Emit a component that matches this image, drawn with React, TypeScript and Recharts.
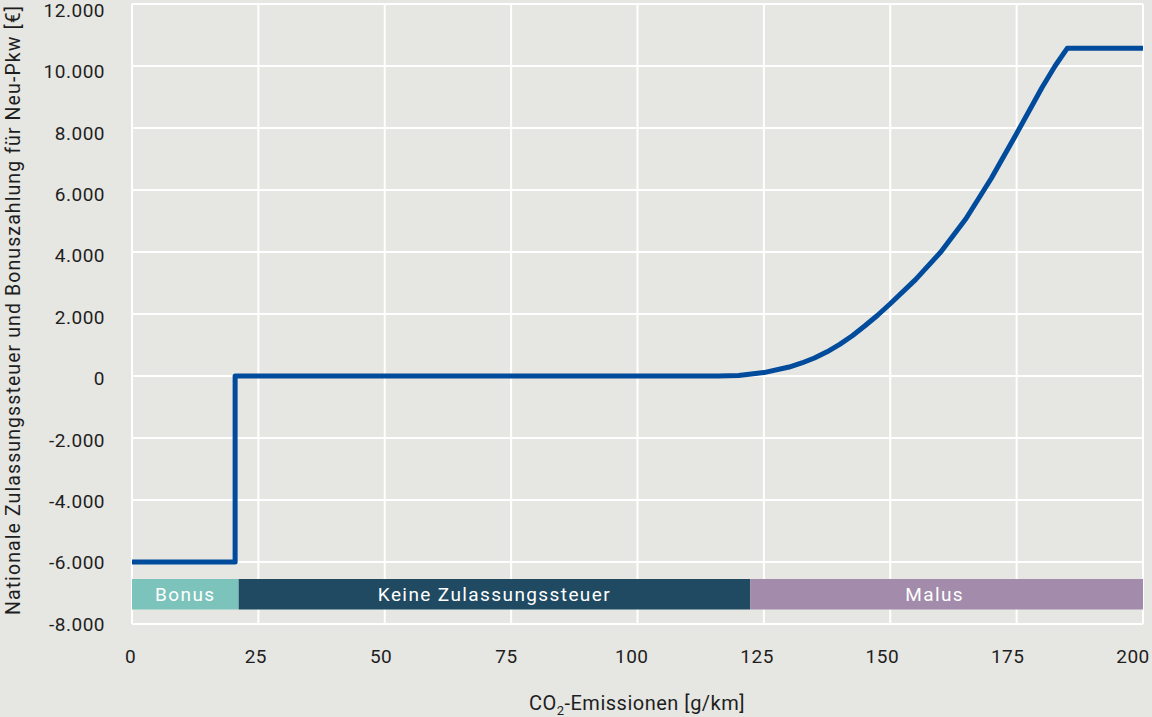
import React from "react";
import {
  LineChart,
  Line,
  XAxis,
  YAxis,
  CartesianGrid,
  ReferenceArea,
} from "recharts";

// CO2 emissions [g/km] and payment [€]
const emissions = [0, 20.4, 20.4, 116, 120, 125, 130, 132.5, 135, 137.5, 140, 142.5, 145, 147.5, 150, 155, 160, 165, 170, 175, 180, 182.6, 185, 200];
const payment = [-6000, -6000, 0, 0, 15, 110, 290, 420, 580, 780, 1020, 1300, 1620, 1960, 2330, 3110, 4000, 5080, 6380, 7820, 9300, 10000, 10570, 10570];

const xTicks = [0, 25, 50, 75, 100, 125, 150, 175, 200];
const yTicks = [-8000, -6000, -4000, -2000, 0, 2000, 4000, 6000, 8000, 10000, 12000];

const bandNames = ["Bonus", "Keine Zulassungssteuer", "Malus"];
const bandStart = [0, 21.1, 122.3];
const bandEnd = [21.1, 122.3, 200];
const bandColors = ["#7cc3bc", "#1f4a62", "#a28bab"];
const bandLabelShift = [0, 0, -12];
const bandLow = -7530;
const bandHigh = -6550;

const data = emissions.map((x, i) => ({ x, y: payment[i] }));

const fmt = (v: number) => {
  const s = Math.abs(v)
    .toFixed(0)
    .replace(/\B(?=(\d{3})+(?!\d))/g, ".");
  return v < 0 ? "-" + s : s;
};

const FONT = "Roboto, 'Open Sans', sans-serif";
const TEXT = "#1e1e1e";

const XTick = (props: any) => {
  const { x, y, payload } = props;
  const v = payload.value as number;
  const dx = -1.5 - (8.5 * v) / 200;
  return (
    <text
      x={x + dx}
      y={y}
      dy="0.71em"
      textAnchor="middle"
      fill={TEXT}
      fontSize={19}
      fontFamily={FONT}
      letterSpacing={0.5}
    >
      {String(v)}
    </text>
  );
};

const YTick = (props: any) => {
  const { x, y, payload } = props;
  const v = payload.value as number;
  const dy = (6 * (v + 8000)) / 20000;
  return (
    <text
      x={x}
      y={y + dy}
      dy="0.355em"
      textAnchor="end"
      fill={TEXT}
      fontSize={19}
      fontFamily={FONT}
      letterSpacing={0.5}
    >
      {fmt(v)}
    </text>
  );
};

const YLabel = () => (
  <text
    x={13}
    y={310}
    transform="rotate(-90, 13, 310)"
    textAnchor="middle"
    dominantBaseline="central"
    fill={TEXT}
    fontSize={19.5}
    fontFamily={FONT}
    letterSpacing={1.1}
  >
    Nationale Zulassungssteuer und Bonuszahlung für Neu-Pkw [€]
  </text>
);

const XLabel = () => (
  <text
    x={637}
    y={710}
    textAnchor="middle"
    fill={TEXT}
    fontSize={20}
    fontFamily={FONT}
    letterSpacing={0.5}
  >
    CO
    <tspan dy={5} fontSize={13}>
      2
    </tspan>
    <tspan dy={-5}>-Emissionen [g/km]</tspan>
  </text>
);

export default function App() {
  return (
    <div
      style={{
        position: "absolute",
        left: 0,
        top: 0,
        width: 1152,
        height: 717,
        background: "#e6e6e2",
        fontFamily: FONT,
      }}
    >
      <LineChart
        width={1152}
        height={717}
        data={data}
        margin={{ top: 4, right: 9, bottom: 0, left: 0 }}
      >
        <CartesianGrid stroke="#ffffff" strokeWidth={2} />
        <XAxis
          dataKey="x"
          type="number"
          domain={[0, 200]}
          ticks={xTicks}
          interval={0}
          axisLine={false}
          tickLine={false}
          tickSize={0}
          tickMargin={26}
          height={93}
          tick={<XTick />}
          label={<XLabel />}
        />
        <YAxis
          type="number"
          domain={[-8000, 12000]}
          ticks={yTicks}
          interval={0}
          axisLine={false}
          tickLine={false}
          tickSize={0}
          tickMargin={27}
          width={132}
          tick={<YTick />}
          label={<YLabel />}
        />
        {bandNames.map((name, i) => (
          <ReferenceArea
            key={name}
            x1={bandStart[i]}
            x2={bandEnd[i]}
            y1={bandLow}
            y2={bandHigh}
            fill={bandColors[i]}
            fillOpacity={1}
            stroke="none"
            ifOverflow="visible"
            label={{
              value: name,
              position: "center",
              fill: "#ffffff",
              fontSize: 19,
              fontFamily: FONT,
              letterSpacing: 1.4,
              dx: bandLabelShift[i],
            }}
          />
        ))}
        <Line
          type="linear"
          dataKey="y"
          stroke="#004b9b"
          strokeWidth={5}
          dot={false}
          activeDot={false}
          isAnimationActive={false}
          strokeLinejoin="round"
        />
      </LineChart>
    </div>
  );
}
